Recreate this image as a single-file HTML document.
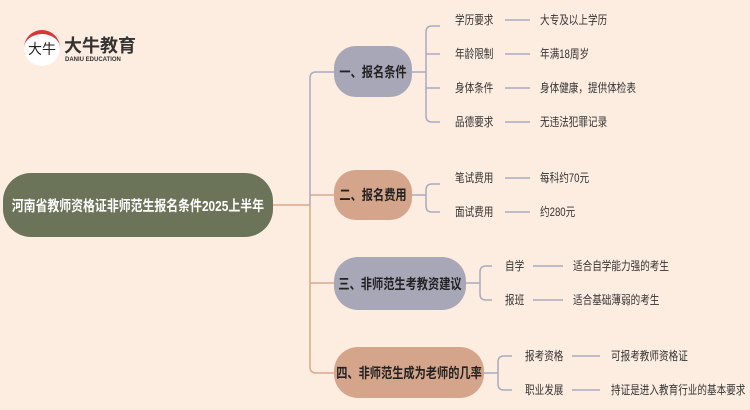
<!DOCTYPE html>
<html><head><meta charset="utf-8"><style>
body{margin:0;width:750px;height:410px;background:#fdede1;position:relative;overflow:hidden;font-family:"Liberation Sans","Noto Sans CJK SC",sans-serif;}
.n{position:absolute;display:flex;align-items:center;justify-content:center;font-weight:bold;color:#222;font-size:14px;white-space:nowrap;}
.n span{display:inline-block;transform:scaleX(0.8);}
.t{position:absolute;font-size:12px;color:#333;line-height:16px;white-space:nowrap;transform:scaleX(0.8);transform-origin:left center;}
</style></head><body>
<svg width="750" height="410" style="position:absolute;left:0;top:0" fill="none" stroke-width="1.5">
<g stroke="#d9a88c">
<path d="M273 205 H310 M310 205 V367 Q310 373 316 373 H334 M310 283 H334 M310 195 H334"/>
</g>
<g stroke="#a9a9bf">
<path d="M310 205 V78 Q310 72 316 72 H334"/>
<path d="M412 72 H426 M432 26 Q426 26 426 32 V116 Q426 122 432 122 H440 M432 26 H440 M426 54 H440 M426 88 H440"/>
<path d="M505 20 H530 M505 54 H530 M505 88 H530 M505 122 H530"/>
<path d="M412 195 H426 M432 184 Q426 184 426 190 V206 Q426 212 432 212 H440 M432 184 H440"/>
<path d="M505 178 H530 M505 212 H530"/>
<path d="M466 283 H480 M486 266 Q480 266 480 272 V294 Q480 300 486 300 H492 M486 266 H492"/>
<path d="M533 266 H563 M533 300 H563"/>
<path d="M484 373 H498 M504 356 Q498 356 498 362 V384 Q498 390 504 390 H512 M504 356 H512"/>
<path d="M572 356 H600 M572 390 H600"/>
</g>
</svg>
<div style="position:absolute;left:24px;top:30px;width:36px;height:36px;border-radius:50%;background:#fff;border-top:4px solid #d33;box-sizing:border-box;font-size:14px;line-height:30px;text-align:center;color:#222;white-space:nowrap;overflow:hidden">大牛</div>
<div class="t" style="left:64px;top:36px;font-size:18px;font-weight:bold;line-height:20px;transform:none">大牛教育</div>
<div class="t" style="left:65px;top:56px;font-size:6px;line-height:8px;font-weight:bold;transform:none">DANIU EDUCATION</div>
<div class="n" style="left:3px;top:173px;width:270px;height:64px;border-radius:28px;background:#6b7358;color:#fff;font-size:14.5px"><span style="transform:scaleX(0.82)">河南省教师资格证非师范生报名条件2025上半年</span></div>
<div class="n" style="left:334px;top:46px;width:78px;height:51px;border-radius:22px;background:#a7a7b8"><span>一、报名条件</span></div>
<div class="n" style="left:334px;top:170px;width:78px;height:50px;border-radius:22px;background:#d4a58a"><span>二、报名费用</span></div>
<div class="n" style="left:334px;top:257px;width:132px;height:53px;border-radius:24px;background:#a7a7b8"><span>三、非师范生考教资建议</span></div>
<div class="n" style="left:334px;top:347px;width:150px;height:51px;border-radius:24px;background:#d4a58a"><span>四、非师范生成为老师的几率</span></div>
<div class="t" style="left:455px;top:12px">学历要求</div><div class="t" style="left:540px;top:12px">大专及以上学历</div>
<div class="t" style="left:455px;top:46px">年龄限制</div><div class="t" style="left:540px;top:46px">年满18周岁</div>
<div class="t" style="left:455px;top:80px">身体条件</div><div class="t" style="left:540px;top:80px">身体健康，提供体检表</div>
<div class="t" style="left:455px;top:114px">品德要求</div><div class="t" style="left:540px;top:114px">无违法犯罪记录</div>
<div class="t" style="left:455px;top:170px">笔试费用</div><div class="t" style="left:540px;top:170px">每科约70元</div>
<div class="t" style="left:455px;top:204px">面试费用</div><div class="t" style="left:540px;top:204px">约280元</div>
<div class="t" style="left:505px;top:258px">自学</div><div class="t" style="left:573px;top:258px">适合自学能力强的考生</div>
<div class="t" style="left:505px;top:292px">报班</div><div class="t" style="left:573px;top:292px">适合基础薄弱的考生</div>
<div class="t" style="left:525px;top:348px">报考资格</div><div class="t" style="left:611px;top:348px">可报考教师资格证</div>
<div class="t" style="left:525px;top:382px">职业发展</div><div class="t" style="left:611px;top:382px">持证是进入教育行业的基本要求</div>
</body></html>
